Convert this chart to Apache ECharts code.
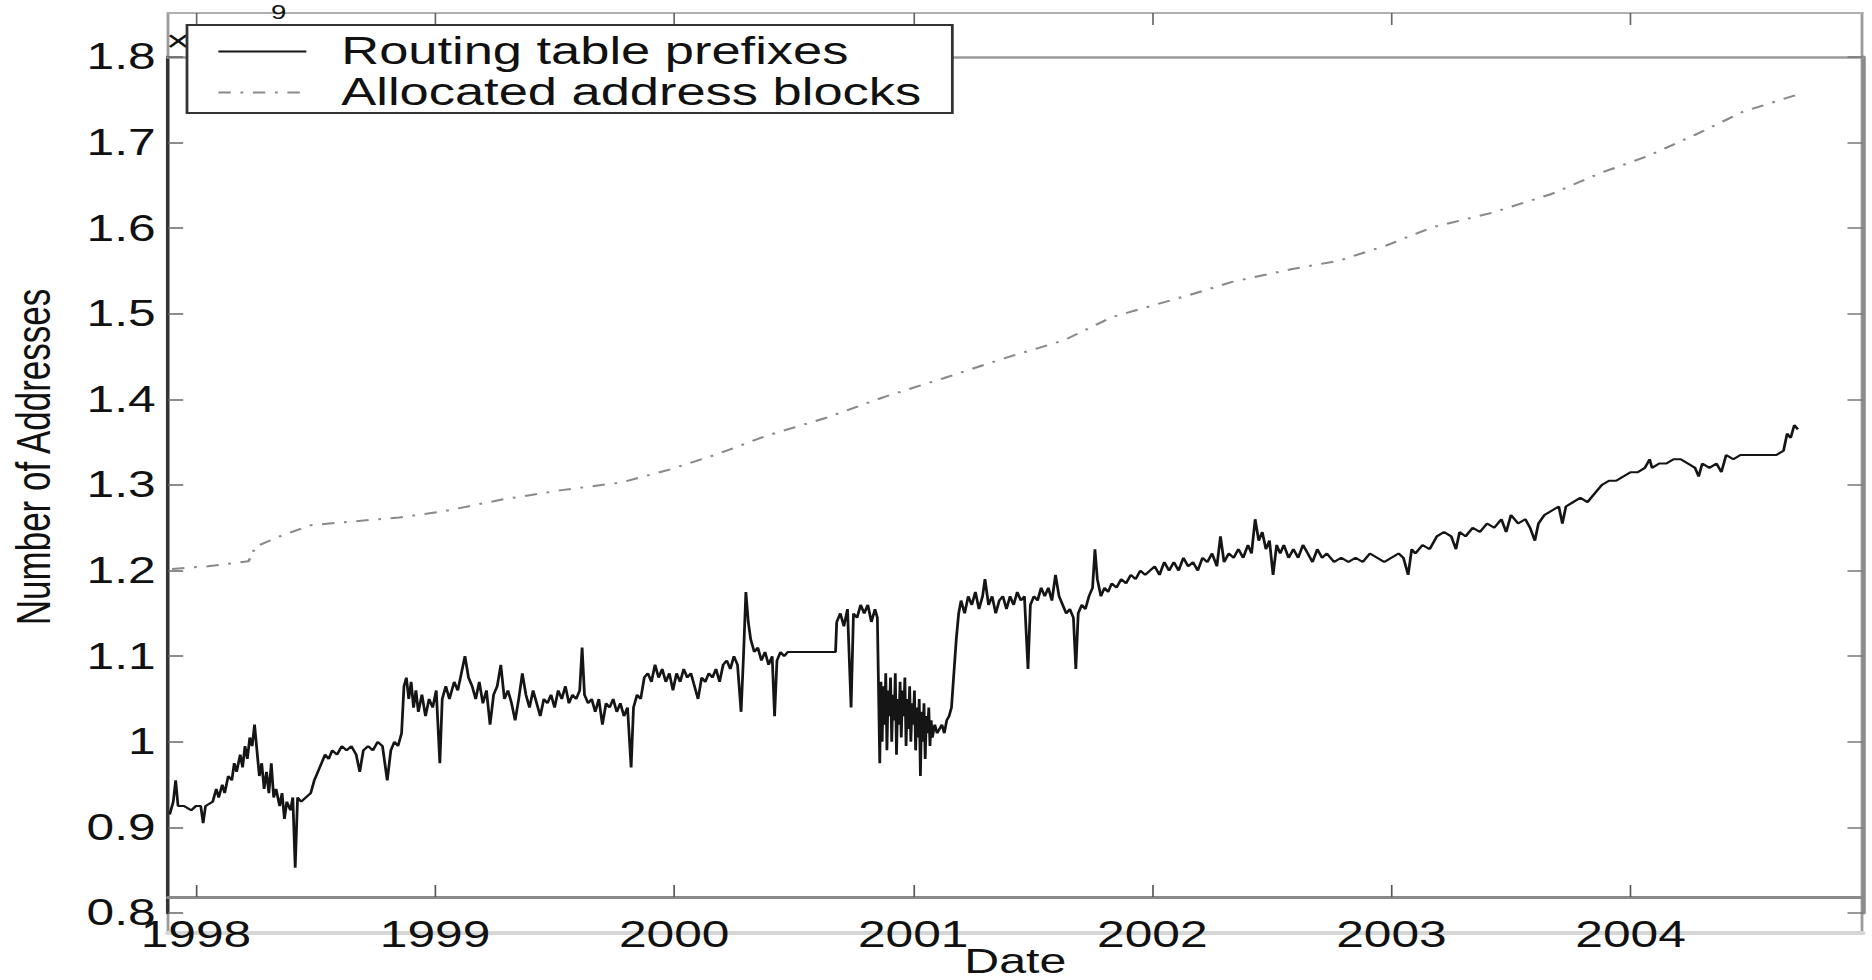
<!DOCTYPE html>
<html>
<head>
<meta charset="utf-8">
<title>Number of Addresses</title>
<script src="https://cdn.jsdelivr.net/npm/echarts@6/dist/echarts.min.js"></script>
<style>
  html, body { margin: 0; padding: 0; background: #fff; overflow: hidden; }
  #chart { height: 980px; transform-origin: 0 0; }
</style>
</head>
<body>
<div id="chart"></div>
<script>
// ---- data (values in units of 10^9 addresses, x in decimal years) ----
const yearTicks = [1998, 1999, 2000, 2001, 2002, 2003, 2004];
const seriesNames = ['Routing table prefixes', 'Allocated address blocks'];

const routingPrefixes = [
  [1997.89, 0.915], [1997.905, 0.93], [1997.915, 0.955], [1997.925, 0.925], [1997.95, 0.925],
  [1997.98, 0.92], [1998.0, 0.925], [1998.02, 0.925], [1998.03, 0.905], [1998.04, 0.925],
  [1998.07, 0.93], [1998.085, 0.945], [1998.095, 0.935], [1998.11, 0.95], [1998.12, 0.94],
  [1998.135, 0.96], [1998.15, 0.955], [1998.16, 0.975], [1998.17, 0.965], [1998.185, 0.985],
  [1998.195, 0.97], [1998.205, 0.995], [1998.215, 0.98], [1998.225, 1.005], [1998.235, 0.995],
  [1998.245, 1.02], [1998.255, 0.99], [1998.265, 0.96], [1998.275, 0.975], [1998.285, 0.945],
  [1998.295, 0.965], [1998.305, 0.94], [1998.315, 0.975], [1998.325, 0.935], [1998.335, 0.945],
  [1998.35, 0.925], [1998.36, 0.94], [1998.37, 0.91], [1998.38, 0.93], [1998.395, 0.92],
  [1998.405, 0.935], [1998.415, 0.853], [1998.425, 0.935], [1998.44, 0.93], [1998.46, 0.935],
  [1998.48, 0.94], [1998.495, 0.955], [1998.51, 0.965], [1998.525, 0.975], [1998.54, 0.985],
  [1998.555, 0.98], [1998.57, 0.99], [1998.59, 0.985], [1998.61, 0.995], [1998.63, 0.99],
  [1998.65, 0.995], [1998.67, 0.985], [1998.685, 0.965], [1998.70, 0.99], [1998.72, 0.995],
  [1998.74, 0.99], [1998.76, 1.0], [1998.78, 0.995], [1998.80, 0.955], [1998.815, 0.99],
  [1998.83, 1.0], [1998.845, 0.995], [1998.86, 1.01],
  [1998.87, 1.065], [1998.88, 1.075], [1998.89, 1.05], [1998.90, 1.07], [1998.91, 1.04],
  [1998.92, 1.06], [1998.93, 1.035], [1998.945, 1.055], [1998.96, 1.03], [1998.975, 1.05],
  [1998.99, 1.04], [1999.005, 1.06], [1999.02, 0.975], [1999.03, 1.05], [1999.045, 1.065],
  [1999.06, 1.05], [1999.08, 1.07], [1999.095, 1.06], [1999.11, 1.08], [1999.125, 1.1],
  [1999.14, 1.075], [1999.155, 1.065], [1999.17, 1.05], [1999.185, 1.07], [1999.2, 1.045],
  [1999.215, 1.06], [1999.23, 1.02], [1999.245, 1.055], [1999.26, 1.065], [1999.275, 1.09],
  [1999.29, 1.05], [1999.305, 1.06], [1999.32, 1.045], [1999.335, 1.025], [1999.35, 1.05],
  [1999.365, 1.08], [1999.38, 1.055], [1999.395, 1.04], [1999.41, 1.06], [1999.425, 1.045],
  [1999.44, 1.03], [1999.455, 1.05], [1999.47, 1.045], [1999.485, 1.055], [1999.50, 1.04],
  [1999.515, 1.06], [1999.53, 1.05], [1999.545, 1.065], [1999.56, 1.045], [1999.575, 1.055],
  [1999.59, 1.05], [1999.605, 1.06], [1999.615, 1.11], [1999.625, 1.055], [1999.64, 1.045],
  [1999.655, 1.05], [1999.67, 1.035], [1999.685, 1.05], [1999.70, 1.02], [1999.715, 1.045],
  [1999.73, 1.04], [1999.745, 1.05], [1999.76, 1.035], [1999.775, 1.045], [1999.79, 1.03],
  [1999.805, 1.04], [1999.82, 0.97], [1999.83, 1.04], [1999.845, 1.055], [1999.86, 1.05],
  [1999.875, 1.075],
  [1999.89, 1.08], [1999.905, 1.07], [1999.92, 1.09], [1999.935, 1.075], [1999.95, 1.085],
  [1999.965, 1.07], [1999.98, 1.08], [1999.995, 1.06], [2000.01, 1.08], [2000.025, 1.07],
  [2000.04, 1.085], [2000.055, 1.075], [2000.07, 1.08], [2000.085, 1.065], [2000.10, 1.05],
  [2000.115, 1.075], [2000.13, 1.07], [2000.145, 1.08], [2000.16, 1.075], [2000.175, 1.085],
  [2000.19, 1.07], [2000.205, 1.09], [2000.22, 1.095], [2000.235, 1.085], [2000.25, 1.1],
  [2000.265, 1.09], [2000.28, 1.035], [2000.29, 1.1], [2000.30, 1.175], [2000.31, 1.14],
  [2000.32, 1.12], [2000.335, 1.105], [2000.35, 1.11], [2000.365, 1.095], [2000.38, 1.105],
  [2000.395, 1.09], [2000.41, 1.1], [2000.42, 1.03], [2000.43, 1.095], [2000.445, 1.105],
  [2000.46, 1.1], [2000.475, 1.105], [2000.50, 1.105], [2000.55, 1.105], [2000.60, 1.105],
  [2000.65, 1.105], [2000.675, 1.105], [2000.68, 1.14], [2000.695, 1.15], [2000.71, 1.135],
  [2000.725, 1.155], [2000.74, 1.04], [2000.75, 1.15], [2000.765, 1.145], [2000.78, 1.16],
  [2000.795, 1.15], [2000.81, 1.16], [2000.825, 1.14], [2000.84, 1.155], [2000.85, 1.145],
  [2000.86, 0.975], [2000.865, 1.07], [2000.87, 1.0], [2000.875, 1.065], [2000.88, 1.02],
  [2000.885, 1.08], [2000.89, 0.99], [2000.895, 1.06], [2000.90, 1.03], [2000.905, 1.075],
  [2000.91, 1.0], [2000.915, 1.055], [2000.92, 1.025], [2000.925, 1.08], [2000.93, 0.985],
  [2000.935, 1.05], [2000.94, 1.02], [2000.945, 1.07], [2000.95, 1.005], [2000.955, 1.06],
  [2000.96, 1.03], [2000.965, 1.075], [2000.97, 0.995], [2000.975, 1.05], [2000.98, 1.015],
  [2000.985, 1.065], [2000.99, 1.0], [2000.995, 1.045], [2001.0, 1.02], [2001.005, 1.06],
  [2001.01, 0.99], [2001.015, 1.04], [2001.02, 1.005], [2001.025, 1.05], [2001.03, 0.96],
  [2001.035, 1.035], [2001.04, 1.0], [2001.045, 1.045], [2001.05, 0.98], [2001.055, 1.03],
  [2001.06, 1.01], [2001.065, 1.04], [2001.07, 0.995], [2001.075, 1.025], [2001.08, 1.005],
  [2001.09, 1.02], [2001.10, 1.01], [2001.11, 1.015], [2001.12, 1.02], [2001.13, 1.01],
  [2001.14, 1.025], [2001.15, 1.03],
  [2001.16, 1.04], [2001.17, 1.08], [2001.18, 1.12], [2001.19, 1.15], [2001.20, 1.165],
  [2001.215, 1.15], [2001.23, 1.17], [2001.245, 1.16], [2001.26, 1.175], [2001.275, 1.155],
  [2001.29, 1.17], [2001.30, 1.19], [2001.315, 1.16], [2001.33, 1.17], [2001.345, 1.15],
  [2001.36, 1.165], [2001.375, 1.17], [2001.39, 1.155], [2001.405, 1.17], [2001.42, 1.16],
  [2001.435, 1.175], [2001.45, 1.165], [2001.465, 1.17], [2001.48, 1.085], [2001.49, 1.16],
  [2001.505, 1.17], [2001.52, 1.165], [2001.535, 1.18], [2001.55, 1.17], [2001.565, 1.18],
  [2001.58, 1.165], [2001.595, 1.195], [2001.61, 1.17], [2001.625, 1.16], [2001.64, 1.15],
  [2001.655, 1.155], [2001.67, 1.145], [2001.68, 1.085], [2001.69, 1.15], [2001.705, 1.16],
  [2001.72, 1.155], [2001.735, 1.17], [2001.75, 1.18], [2001.76, 1.225], [2001.77, 1.19],
  [2001.785, 1.17], [2001.80, 1.18], [2001.815, 1.175], [2001.83, 1.185], [2001.85, 1.18],
  [2001.87, 1.19], [2001.89, 1.185], [2001.91, 1.195], [2001.93, 1.19], [2001.95, 1.2],
  [2001.97, 1.195], [2001.99, 1.2],
  [2002.01, 1.205], [2002.03, 1.195], [2002.05, 1.21], [2002.07, 1.2], [2002.09, 1.21],
  [2002.11, 1.2], [2002.13, 1.215], [2002.15, 1.205], [2002.17, 1.21], [2002.19, 1.2],
  [2002.21, 1.215], [2002.23, 1.21], [2002.25, 1.22], [2002.27, 1.205], [2002.285, 1.24],
  [2002.30, 1.21], [2002.32, 1.22], [2002.34, 1.215], [2002.36, 1.225], [2002.38, 1.215],
  [2002.40, 1.23], [2002.415, 1.22], [2002.43, 1.26], [2002.445, 1.235], [2002.46, 1.245],
  [2002.475, 1.225], [2002.49, 1.235], [2002.505, 1.195], [2002.52, 1.23], [2002.535, 1.22],
  [2002.55, 1.23], [2002.57, 1.215], [2002.59, 1.225], [2002.61, 1.215], [2002.63, 1.23],
  [2002.65, 1.22], [2002.67, 1.21], [2002.69, 1.225], [2002.71, 1.215], [2002.73, 1.22],
  [2002.76, 1.21], [2002.79, 1.215], [2002.82, 1.21], [2002.85, 1.215], [2002.88, 1.21],
  [2002.91, 1.22], [2002.94, 1.215], [2002.97, 1.21], [2003.0, 1.215],
  [2003.03, 1.22], [2003.05, 1.215], [2003.07, 1.195], [2003.085, 1.225], [2003.10, 1.22],
  [2003.13, 1.23], [2003.16, 1.225], [2003.19, 1.24], [2003.22, 1.245], [2003.25, 1.24],
  [2003.27, 1.225], [2003.285, 1.245], [2003.31, 1.24], [2003.34, 1.25], [2003.37, 1.245],
  [2003.40, 1.255], [2003.43, 1.25], [2003.46, 1.26], [2003.48, 1.245], [2003.50, 1.265],
  [2003.53, 1.255], [2003.56, 1.26], [2003.58, 1.25], [2003.60, 1.235], [2003.615, 1.255],
  [2003.64, 1.265], [2003.67, 1.27], [2003.70, 1.275], [2003.715, 1.255], [2003.73, 1.275],
  [2003.76, 1.28], [2003.79, 1.285], [2003.82, 1.28], [2003.85, 1.29], [2003.88, 1.3],
  [2003.91, 1.305], [2003.94, 1.305], [2003.97, 1.31], [2004.0, 1.315], [2004.03, 1.315],
  [2004.06, 1.32], [2004.08, 1.33], [2004.09, 1.32], [2004.12, 1.325], [2004.15, 1.325],
  [2004.18, 1.33], [2004.21, 1.33], [2004.24, 1.325], [2004.27, 1.32], [2004.285, 1.31],
  [2004.30, 1.325], [2004.33, 1.32], [2004.36, 1.325], [2004.38, 1.315], [2004.40, 1.335],
  [2004.43, 1.33], [2004.46, 1.335], [2004.49, 1.335], [2004.52, 1.335], [2004.55, 1.335],
  [2004.58, 1.335], [2004.61, 1.335], [2004.64, 1.34], [2004.655, 1.36], [2004.67, 1.355],
  [2004.685, 1.37], [2004.70, 1.365]
];

const allocatedBlocks = [
  [1997.90, 1.202], [1998.05, 1.205], [1998.22, 1.211], [1998.25, 1.228], [1998.35, 1.24],
  [1998.48, 1.253], [1998.68, 1.258], [1998.85, 1.262], [1999.03, 1.269], [1999.28, 1.283],
  [1999.53, 1.294], [1999.78, 1.303], [1999.98, 1.318], [2000.18, 1.336], [2000.38, 1.357],
  [2000.63, 1.378], [2000.88, 1.403], [2001.13, 1.425], [2001.38, 1.448], [2001.63, 1.469],
  [2001.83, 1.496], [2001.98, 1.508], [2002.18, 1.524], [2002.33, 1.537], [2002.58, 1.552],
  [2002.78, 1.562], [2002.98, 1.58], [2003.17, 1.601], [2003.42, 1.618], [2003.67, 1.64],
  [2003.87, 1.664], [2004.07, 1.684], [2004.27, 1.709], [2004.47, 1.736], [2004.72, 1.758]
];

// ---- layout: the figure is drawn on a narrower canvas and stretched sideways ----
const STRETCH = 1.38;
const PAGE_W = 1872;
const sx = v => v / STRETCH;
const FONT = '"Liberation Sans", Arial, Helvetica, sans-serif';

const el = document.getElementById('chart');
el.style.width = (PAGE_W / STRETCH) + 'px';
el.style.transform = 'scaleX(' + STRETCH + ')';

const X_MIN = 1997.883, X_MAX = 2004.971;
const baseX = {
  type: 'value', min: X_MIN, max: X_MAX, gridIndex: 0,
  splitLine: { show: false }, axisLabel: { show: false }, axisTick: { show: false }
};
const baseY = {
  type: 'value', min: 0.8, max: 1.8, interval: 0.1, gridIndex: 0,
  splitLine: { show: false }
};

const chart = echarts.init(el, null, { renderer: 'svg' });
chart.setOption({
  animation: false,
  backgroundColor: '#fff',
  grid: { left: sx(168), right: sx(10), top: 57, bottom: 67,
    containLabel: false, outerBoundsMode: 'none' },
  xAxis: [
    Object.assign({}, baseX, {
      position: 'bottom', offset: -16,
      axisLine: { show: true, onZero: false, lineStyle: { color: '#8a8a8a', width: 3 } },
      axisTick: { show: true, inside: true, length: 12, customValues: yearTicks,
        lineStyle: { color: '#555', width: 1.2 } },
      axisLabel: { show: true, customValues: yearTicks, formatter: v => String(Math.round(v)),
        margin: 20, fontSize: 36, color: '#111', fontFamily: FONT },
      name: 'Date', nameLocation: 'middle', nameGap: 46, nameMoveOverlap: false,
      nameTextStyle: { fontSize: 35, color: '#111', fontFamily: FONT }
    }),
    Object.assign({}, baseX, {
      position: 'top', offset: 44,
      axisLine: { show: true, onZero: false, lineStyle: { color: '#b0b0b0', width: 2 } },
      axisTick: { show: true, inside: true, length: 12, customValues: yearTicks,
        lineStyle: { color: '#666', width: 1.2 } }
    }),
    Object.assign({}, baseX, {
      position: 'top', offset: 0,
      axisLine: { show: true, onZero: false, lineStyle: { color: '#9a9a9a', width: 2.5 } }
    }),
    Object.assign({}, baseX, {
      position: 'bottom', offset: 20,
      axisLine: { show: true, onZero: false, lineStyle: { color: '#d6d6d6', width: 4 } }
    })
  ],
  yAxis: [
    Object.assign({}, baseY, {
      position: 'left',
      axisLine: { show: true, onZero: false, lineStyle: { color: '#333', width: 2.5 } },
      axisTick: { show: true, inside: true, length: 11, lineStyle: { color: '#666', width: 1.5 } },
      axisLabel: { show: true, margin: 9, fontSize: 36, color: '#111', fontFamily: FONT },
      name: 'Number of Addresses', nameLocation: 'middle', nameGap: 80, nameMoveOverlap: false,
      nameTextStyle: { fontSize: 35, color: '#111', fontFamily: FONT, padding: [0, 0, 0, 56] }
    }),
    Object.assign({}, baseY, {
      position: 'right',
      axisLine: { show: true, onZero: false, lineStyle: { color: '#8a8a8a', width: 3 } },
      axisTick: { show: true, inside: true, length: 11, lineStyle: { color: '#777', width: 1.5 } },
      axisLabel: { show: false }
    })
  ],
  legend: {
    data: seriesNames,
    orient: 'vertical',
    left: sx(187), top: 25,
    padding: [6, sx(31), 0, sx(30)],
    itemWidth: sx(88), itemHeight: 10, itemGap: 0,
    itemStyle: { opacity: 0 },
    backgroundColor: '#fff', borderColor: '#333', borderWidth: 2,
    textStyle: { fontSize: 38, fontFamily: FONT, color: '#111', lineHeight: 41,
      padding: [0, 0, 0, sx(28)] },
    z: 10
  },
  graphic: [
    { type: 'rect', silent: true, z: 0,
      shape: { x: sx(168), y: 13, width: sx(1862 - 168), height: 920 },
      style: { fill: 'none', stroke: '#9a9a9a', lineWidth: 2 } },
    { type: 'text', silent: true, z: 1, x: sx(166), y: 26,
      style: { text: '×10', font: '30px ' + FONT, fill: '#111' } },
    { type: 'text', silent: true, z: 1, x: sx(271), y: 2,
      style: { text: '9', font: '20px ' + FONT, fill: '#111' } }
  ],
  series: [
    {
      name: seriesNames[0], type: 'line', xAxisIndex: 0, yAxisIndex: 0,
      data: routingPrefixes, symbol: 'none', showSymbol: false,
      lineStyle: { color: '#151515', width: 2 }, itemStyle: { color: '#151515' }
    },
    {
      name: seriesNames[1], type: 'line', xAxisIndex: 0, yAxisIndex: 0,
      data: allocatedBlocks, symbol: 'none', showSymbol: false,
      lineStyle: { color: '#8a8a8a', width: 2, type: [9, 7, 2, 7] }, itemStyle: { color: '#8a8a8a' }
    }
  ]
});
</script>
</body>
</html>
